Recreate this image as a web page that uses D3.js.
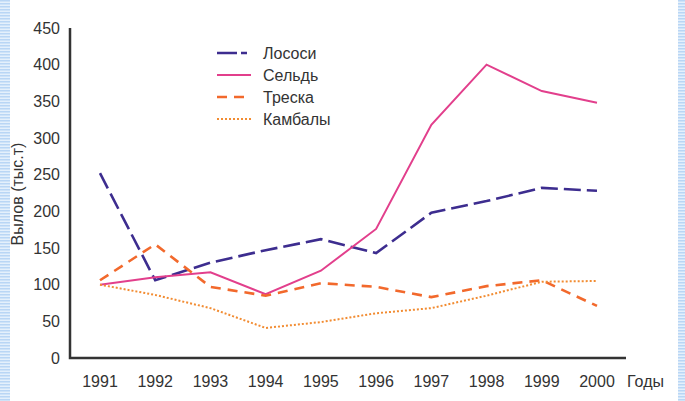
<!DOCTYPE html>
<html>
<head>
<meta charset="utf-8">
<script src="https://cdn.jsdelivr.net/npm/d3@7"></script>
<style>
  body { margin: 0; background: #fff; }
  svg { display: block; font-family: "Liberation Sans", Arial, sans-serif; }
</style>
</head>
<body>
<div id="chart"></div>
<script>
// Вылов рыбы по годам, тыс. т
const years = [1991, 1992, 1993, 1994, 1995, 1996, 1997, 1998, 1999, 2000];
const lososi = [252, 106, 130, 147, 162, 143, 198, 214, 232, 228];
const seld = [100, 110, 117, 87, 119, 176, 318, 400, 364, 348];
const treska = [106, 155, 97, 85, 102, 97, 83, 98, 106, 71];
const kambaly = [100, 86, 68, 41, 49, 61, 68, 85, 104, 105];
const yTicks = [0, 50, 100, 150, 200, 250, 300, 350, 400, 450];

const series = [
    { name: "Лососи", values: lososi, color: "#3d2d8f", dash: "17,6", width: 2.6 },
    { name: "Сельдь", values: seld, color: "#e23f8c", dash: null, width: 2 },
    { name: "Треска", values: treska, color: "#f2692c", dash: "10,7", width: 2.6 },
    { name: "Камбалы", values: kambaly, color: "#f28c32", dash: "2,2", width: 2 }
];

const W = 685, H = 401;
const svg = d3.select("#chart").append("svg")
    .attr("width", W)
    .attr("height", H);

// light blue striped edges
const pat = svg.append("defs").append("pattern")
    .attr("id", "stripes")
    .attr("width", 4).attr("height", 3)
    .attr("patternUnits", "userSpaceOnUse");
pat.append("rect").attr("width", 4).attr("height", 3).attr("fill", "#e4f0fc");
pat.append("rect").attr("width", 4).attr("height", 1.5).attr("fill", "#b9d6f5");
svg.append("rect").attr("x", 0).attr("y", 0).attr("width", 10).attr("height", H).attr("fill", "url(#stripes)");
svg.append("rect").attr("x", 678).attr("y", 0).attr("width", 7).attr("height", H).attr("fill", "url(#stripes)");

const x = d3.scaleLinear().domain([1991, 2000]).range([100, 597]);
const y = d3.scaleLinear().domain([0, 450]).range([358, 28]);

// y tick labels
svg.append("g").selectAll("text")
    .data(yTicks)
    .enter()
    .append("text")
    .attr("x", 60)
    .attr("y", d => y(d))
    .attr("dy", "0.35em")
    .attr("text-anchor", "end")
    .attr("font-size", 16)
    .attr("fill", "#333")
    .text(d => d);

// x tick labels
svg.append("g").selectAll("text")
    .data(years)
    .enter()
    .append("text")
    .attr("x", d => x(d))
    .attr("y", 381)
    .attr("dy", "0.35em")
    .attr("text-anchor", "middle")
    .attr("font-size", 16)
    .attr("fill", "#333")
    .text(d => d);

svg.append("text")
    .attr("x", 627)
    .attr("y", 381)
    .attr("dy", "0.35em")
    .attr("font-size", 16)
    .attr("fill", "#333")
    .text("Годы");

svg.append("text")
    .attr("transform", "translate(23,194) rotate(-90)")
    .attr("text-anchor", "middle")
    .attr("font-size", 16)
    .attr("fill", "#333")
    .text("Вылов (тыс.т)");

// series lines
const line = d3.line()
    .x((d, i) => x(years[i]))
    .y(d => y(d));

series.forEach(s => {
    svg.append("path")
        .datum(s.values)
        .attr("fill", "none")
        .attr("stroke", s.color)
        .attr("stroke-width", s.width)
        .attr("stroke-dasharray", s.dash)
        .attr("d", line);
});

// axes lines
svg.append("path")
    .attr("d", `M${x.range()[0] - 30},${y(450)}V${y(0)}H626`)
    .attr("fill", "none")
    .attr("stroke", "#333")
    .attr("stroke-width", 2.5);

// legend
const legend = svg.append("g").selectAll("g")
    .data(series)
    .enter()
    .append("g")
    .attr("transform", (d, i) => `translate(217,${53 + i * 22})`);
legend.append("line")
    .attr("x1", 0).attr("x2", 34)
    .attr("stroke", d => d.color)
    .attr("stroke-width", d => d.width)
    .attr("stroke-dasharray", d => d.name === "Лососи" ? "20,4,6,4" : d.dash);
legend.append("text")
    .attr("x", 46)
    .attr("dy", "0.35em")
    .attr("font-size", 16)
    .attr("fill", "#333")
    .text(d => d.name);
</script>
</body>
</html>
